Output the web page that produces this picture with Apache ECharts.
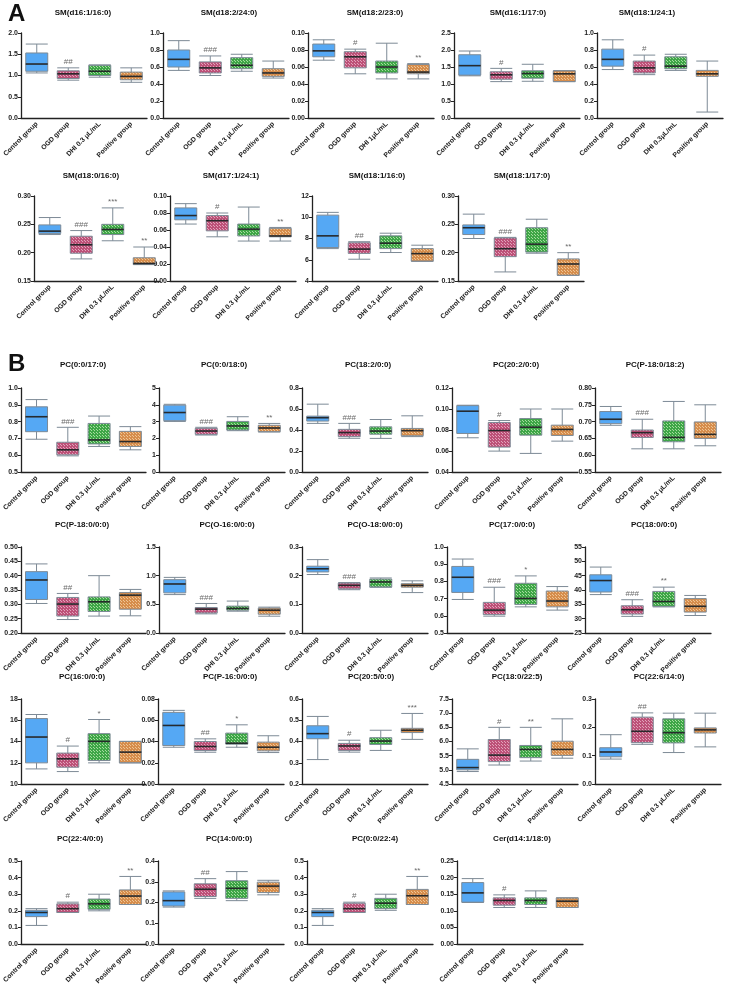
<!DOCTYPE html>
<html><head><meta charset="utf-8">
<script src="https://cdn.jsdelivr.net/npm/echarts/dist/echarts.min.js"></script>
<style>html,body{margin:0;padding:0;background:#fff}#c{width:729px;height:987px}</style>
</head><body><div id="c"></div>
<script>
// ---------- categories ----------
const groupsStd = ['Control group', 'OGD group', 'DHI 0.3 μL/mL', 'Positive group'];
const groupsDHI1 = ['Control group', 'OGD group', 'DHI 1μL/mL', 'Positive group'];
const groupsDHI03 = ['Control group', 'OGD group', 'DHI 0.3μL/mL', 'Positive group'];

// ---------- titles ----------
const titlesA = ['SM(d16:1/16:0)', 'SM(d18:2/24:0)', 'SM(d18:2/23:0)', 'SM(d16:1/17:0)', 'SM(d18:1/24:1)',
  'SM(d18:0/16:0)', 'SM(d17:1/24:1)', 'SM(d18:1/16:0)', 'SM(d18:1/17:0)'];
const titlesB = ['PC(0:0/17:0)', 'PC(0:0/18:0)', 'PC(18:2/0:0)', 'PC(20:2/0:0)', 'PC(P-18:0/18:2)',
  'PC(P-18:0/0:0)', 'PC(O-16:0/0:0)', 'PC(O-18:0/0:0)', 'PC(17:0/0:0)', 'PC(18:0/0:0)',
  'PC(16:0/0:0)', 'PC(P-16:0/0:0)', 'PC(20:5/0:0)', 'PC(18:0/22:5)', 'PC(22:6/14:0)',
  'PC(22:4/0:0)', 'PC(14:0/0:0)', 'PC(0:0/22:4)', 'Cer(d14:1/18:0)'];

// ---------- box values: [min, Q1, median, Q3, max] for Control, OGD, DHI, Positive ----------
const smD16_1_16_0 = [[1.06,1.10,1.27,1.53,1.74],[0.89,0.93,1.04,1.11,1.18],[0.96,1.00,1.10,1.24,1.25],[0.84,0.90,0.98,1.08,1.18]];
const smD18_2_24_0 = [[0.56,0.60,0.69,0.80,0.91],[0.50,0.53,0.59,0.66,0.73],[0.55,0.58,0.62,0.71,0.75],[0.47,0.49,0.53,0.58,0.67]];
const smD18_2_23_0 = [[0.068,0.072,0.079,0.087,0.092],[0.052,0.059,0.072,0.078,0.081],[0.046,0.053,0.060,0.067,0.088],[0.046,0.052,0.054,0.063,0.064]];
const smD16_1_17_0 = [[1.24,1.26,1.54,1.86,1.97],[1.07,1.14,1.27,1.36,1.46],[1.08,1.17,1.31,1.39,1.58],[1.07,1.07,1.30,1.39,1.39]];
const smD18_1_24_1 = [[0.57,0.61,0.69,0.81,0.92],[0.51,0.53,0.59,0.67,0.74],[0.56,0.58,0.61,0.72,0.75],[0.07,0.49,0.52,0.56,0.67]];
const smD18_0_16_0 = [[0.232,0.234,0.238,0.249,0.262],[0.189,0.199,0.214,0.229,0.239],[0.221,0.232,0.241,0.250,0.279],[0.179,0.179,0.181,0.191,0.210]];
const smD17_1_24_1 = [[0.067,0.072,0.077,0.086,0.091],[0.052,0.059,0.071,0.077,0.080],[0.047,0.053,0.061,0.067,0.087],[0.047,0.052,0.053,0.062,0.063]];
const smD18_1_16_0 = [[7.05,7.15,8.25,10.2,10.46],[6.05,6.6,7.0,7.6,7.7],[6.68,7.05,7.56,8.25,8.5],[5.86,5.86,6.58,7.05,7.37]];
const smD18_1_17_0 = [[0.225,0.232,0.244,0.249,0.268],[0.166,0.193,0.207,0.226,0.227],[0.199,0.201,0.215,0.244,0.259],[0.160,0.160,0.180,0.189,0.200]];

const pc0_0_17_0 = [[0.695,0.740,0.829,0.888,0.931],[0.596,0.602,0.632,0.677,0.766],[0.652,0.667,0.691,0.789,0.833],[0.632,0.652,0.681,0.742,0.770]];
const pc0_0_18_0 = [[3.01,3.05,3.54,3.98,4.03],[2.20,2.24,2.44,2.60,2.66],[2.46,2.50,2.74,3.01,3.29],[2.38,2.40,2.62,2.78,2.89]];
const pc18_2_0_0 = [[0.463,0.485,0.517,0.532,0.646],[0.321,0.337,0.375,0.406,0.463],[0.32,0.36,0.39,0.43,0.50],[0.337,0.345,0.394,0.415,0.535]];
const pc20_2_0_0 = [[0.0726,0.0767,0.0979,0.1032,0.1036],[0.0599,0.0637,0.0795,0.0871,0.089],[0.0577,0.0751,0.0827,0.0909,0.100],[0.0694,0.0748,0.0805,0.0846,0.100]];
const pcP18_0_18_2 = [[0.689,0.694,0.707,0.730,0.745],[0.619,0.653,0.667,0.675,0.707],[0.619,0.640,0.653,0.702,0.760],[0.628,0.650,0.662,0.699,0.750]];
const pcP18_0_0_0 = [[0.303,0.317,0.385,0.414,0.441],[0.247,0.259,0.301,0.324,0.338],[0.259,0.275,0.309,0.326,0.400],[0.260,0.283,0.332,0.341,0.352]];
const pcO16_0_0_0 = [[0.67,0.70,0.855,0.93,0.97],[0.334,0.35,0.416,0.445,0.515],[0.38,0.398,0.428,0.469,0.557],[0.293,0.328,0.398,0.434,0.451]];
const pcO18_0_0_0 = [[0.204,0.213,0.224,0.233,0.256],[0.151,0.154,0.166,0.174,0.176],[0.160,0.160,0.178,0.188,0.192],[0.141,0.160,0.166,0.172,0.182]];
const pc17_0_0_0 = [[0.695,0.736,0.824,0.887,0.930],[0.598,0.607,0.633,0.678,0.766],[0.652,0.666,0.701,0.789,0.832],[0.633,0.652,0.686,0.744,0.770]];
const pc18_0_0_0 = [[38.4,39.3,43.3,45.3,48.0],[30.8,31.6,33.1,34.5,36.6],[34.1,34.3,36.0,39.5,41.0],[31.1,32.3,34.3,37.0,38.1]];
const pc16_0_0_0 = [[11.42,11.99,14.42,16.16,16.54],[11.17,11.58,12.37,12.91,13.57],[11.99,12.21,14.01,14.74,16.07],[11.99,11.99,13.0,14.01,14.01]];
const pcP16_0_0_0 = [[0.0346,0.0362,0.0551,0.0674,0.0693],[0.0299,0.0315,0.0353,0.0400,0.0425],[0.0346,0.0375,0.0384,0.0479,0.0557],[0.0296,0.0312,0.0346,0.0394,0.0454]];
const pc20_5_0_0 = [[0.315,0.413,0.437,0.474,0.518],[0.350,0.358,0.379,0.391,0.406],[0.358,0.386,0.402,0.418,0.453],[0.410,0.442,0.453,0.462,0.532]];
const pc18_0_22_5 = [[4.94,5.00,5.08,5.37,5.74],[5.17,5.29,5.52,6.07,6.50],[5.31,5.43,5.72,5.86,6.50],[5.41,5.51,5.72,6.01,6.80]];
const pc22_6_14_0 = [[0.088,0.096,0.113,0.128,0.174],[0.140,0.146,0.186,0.236,0.251],[0.111,0.145,0.181,0.230,0.250],[0.131,0.180,0.191,0.198,0.250]];
const pc22_4_0_0 = [[0.112,0.165,0.190,0.203,0.213],[0.190,0.190,0.213,0.242,0.252],[0.200,0.209,0.242,0.271,0.300],[0.238,0.238,0.289,0.326,0.407]];
const pc14_0_0_0 = [[0.178,0.183,0.209,0.251,0.256],[0.220,0.229,0.264,0.290,0.315],[0.209,0.220,0.268,0.305,0.349],[0.237,0.248,0.279,0.298,0.307]];
const pc0_0_22_4 = [[0.112,0.165,0.190,0.203,0.213],[0.190,0.190,0.213,0.246,0.252],[0.203,0.213,0.246,0.275,0.300],[0.238,0.238,0.291,0.329,0.407]];
const cerD14_1_18_0 = [[0.125,0.126,0.154,0.185,0.197],[0.110,0.117,0.131,0.139,0.148],[0.110,0.119,0.131,0.139,0.160],[0.110,0.110,0.129,0.139,0.139]];

// ---------- significance marks ----------
const sigA = [['','##','',''],['','###','',''],['','#','','**'],['','#','',''],['','#','',''],
  ['','###','***','**'],['','#','','**'],['','##','',''],['','###','','**']];
const sigB = [['','###','',''],['','###','','**'],['','###','',''],['','#','',''],['','###','',''],
  ['','##','',''],['','###','',''],['','###','',''],['','###','*',''],['','###','**',''],
  ['','#','*',''],['','##','*',''],['','#','','***'],['','#','**',''],['','##','',''],
  ['','#','','**'],['','##','',''],['','#','','**'],['','#','','']];

// ---------- y axis ticks: [min, max, interval, decimals] ----------
const ticksA = [[0,2,0.5,1],[0,1,0.2,1],[0,0.1,0.02,2],[0,2.5,0.5,1],[0,1,0.2,1],
  [0.15,0.30,0.05,2],[0,0.1,0.02,2],[4,12,2,0],[0.15,0.30,0.05,2]];
const ticksB = [[0.5,1,0.1,1],[0,5,1,0],[0,0.8,0.2,1],[0.04,0.12,0.02,2],[0.55,0.80,0.05,2],
  [0.2,0.5,0.05,2],[0,1.5,0.5,1],[0,0.3,0.1,1],[0.5,1,0.1,1],[25,55,5,0],
  [10,18,2,0],[0,0.08,0.02,2],[0.2,0.6,0.1,1],[4.5,7.5,0.5,1],[0,0.3,0.1,1],
  [0,0.5,0.1,1],[0,0.4,0.1,1],[0,0.5,0.1,1],[0,0.25,0.05,2]];

const boxesA = [smD16_1_16_0, smD18_2_24_0, smD18_2_23_0, smD16_1_17_0, smD18_1_24_1, smD18_0_16_0, smD17_1_24_1, smD18_1_16_0, smD18_1_17_0];
const boxesB = [pc0_0_17_0, pc0_0_18_0, pc18_2_0_0, pc20_2_0_0, pcP18_0_18_2, pcP18_0_0_0, pcO16_0_0_0, pcO18_0_0_0, pc17_0_0_0, pc18_0_0_0,
  pc16_0_0_0, pcP16_0_0_0, pc20_5_0_0, pc18_0_22_5, pc22_6_14_0, pc22_4_0_0, pc14_0_0_0, pc0_0_22_4, cerD14_1_18_0];
const catsA = [groupsStd, groupsStd, groupsDHI1, groupsStd, groupsDHI03, groupsStd, groupsStd, groupsStd, groupsStd];

// ---------- layout (pixels) ----------
const layoutRows = [
  {top: 33, h: 85, ty: 13, lefts: [21, 163, 308, 454, 597], tx: [83, 229, 375, 518, 647]},
  {top: 196, h: 85, ty: 176, lefts: [34, 170, 312, 458], tx: [91, 231, 377, 522]},
  {top: 388, h: 84, ty: 365, lefts: [20, 159, 302, 452, 595], tx: [83, 224, 368, 516, 655]},
  {top: 547, h: 86, ty: 525, lefts: [20, 159, 302, 447, 585], tx: [82, 227, 375, 512, 654]},
  {top: 699, h: 85, ty: 677, lefts: [20, 158, 302, 452, 595], tx: [82, 230, 371, 517, 659]},
  {top: 861, h: 85, ty: 839, lefts: [20, 158, 307, 457], tx: [80, 229, 375, 522]}
];
const plotW = 126;
const FONT = '"Liberation Sans", Arial, sans-serif';

function pattern(base, dot, size) {
  const c = document.createElement('canvas');
  c.width = size; c.height = size;
  const g = c.getContext('2d');
  g.fillStyle = base; g.fillRect(0, 0, size, size);
  g.fillStyle = dot; g.fillRect(0, 0, 1, 1);
  if (size > 2) g.fillRect(Math.floor(size / 2), Math.floor(size / 2), 1, 1);
  return {image: c, repeat: 'repeat'};
}
const fills = [
  '#55a8f4',
  pattern('#bd5178', '#e2a3bb', 3),
  pattern('#3ea647', '#a6dc9f', 3),
  pattern('#d68d4c', '#efc594', 3)
];

const panels = [];
titlesA.forEach((t, i) => panels.push({title: t, box: boxesA[i], sig: sigA[i], tk: ticksA[i], cats: catsA[i]}));
titlesB.forEach((t, i) => panels.push({title: t, box: boxesB[i], sig: sigB[i], tk: ticksB[i], cats: groupsStd}));

const slots = [];
layoutRows.forEach(r => r.lefts.forEach((l, j) => slots.push({left: l, top: r.top, h: r.h, ty: r.ty, tx: r.tx[j]})));

const grid = [], xAxis = [], yAxis = [], series = [], graphic = [];
panels.forEach((p, k) => {
  const s = slots[k];
  grid.push({left: s.left, top: s.top, width: plotW, height: s.h});
  xAxis.push({
    type: 'category', gridIndex: k, data: p.cats,
    axisLine: {lineStyle: {color: '#222', width: 1.3}},
    axisTick: {alignWithLabel: true, length: 3, lineStyle: {color: '#222'}},
    axisLabel: {rotate: 45, interval: 0, fontSize: 6.8, fontWeight: 'bold', color: '#222', fontFamily: FONT, margin: 5}
  });
  yAxis.push({
    type: 'value', gridIndex: k, min: p.tk[0], max: p.tk[1], interval: p.tk[2],
    splitLine: {show: false},
    axisLine: {show: true, lineStyle: {color: '#222', width: 1.3}},
    axisTick: {show: true, length: 3, lineStyle: {color: '#222'}},
    axisLabel: {fontSize: 7, fontWeight: 'bold', color: '#222', fontFamily: FONT, margin: 3,
      formatter: v => v.toFixed(p.tk[3])}
  });
  series.push({
    type: 'boxplot', xAxisIndex: k, yAxisIndex: k, boxWidth: [22, 22],
    itemStyle: {borderColor: '#7d8a96', borderWidth: 1},
    data: p.box.map((b, i) => ({value: b, itemStyle: {color: fills[i]}})),
    silent: true
  });
  series.push({
    type: 'scatter', xAxisIndex: k, yAxisIndex: k, symbol: 'rect', symbolSize: [22, 1.6],
    itemStyle: {color: '#111'}, z: 5, silent: true,
    data: p.box.map((b, i) => [i, b[2]])
  });
  series.push({
    type: 'scatter', xAxisIndex: k, yAxisIndex: k, symbolSize: 0, z: 6, silent: true,
    label: {show: true, position: 'top', distance: 2, formatter: '{b}', fontSize: 8, color: '#444', fontFamily: FONT},
    data: p.sig.map((sg, i) => ({name: sg, value: [i, p.box[i][4]]})).filter(d => d.name)
  });
  graphic.push({
    type: 'text', x: s.tx, y: s.ty,
    style: {text: p.title, font: 'bold 8px ' + FONT, fill: '#111', align: 'center', verticalAlign: 'middle', textAlign: 'center', textVerticalAlign: 'middle'}
  });
});
graphic.push({type: 'text', x: 8, y: 2, style: {text: 'A', font: 'bold 24px ' + FONT, fill: '#111'}});
graphic.push({type: 'text', x: 8, y: 352, style: {text: 'B', font: 'bold 24px ' + FONT, fill: '#111'}});

const chart = echarts.init(document.getElementById('c'), null, {renderer: 'canvas'});
chart.setOption({animation: false, backgroundColor: '#fff', grid, xAxis, yAxis, series, graphic});
</script></body></html>
